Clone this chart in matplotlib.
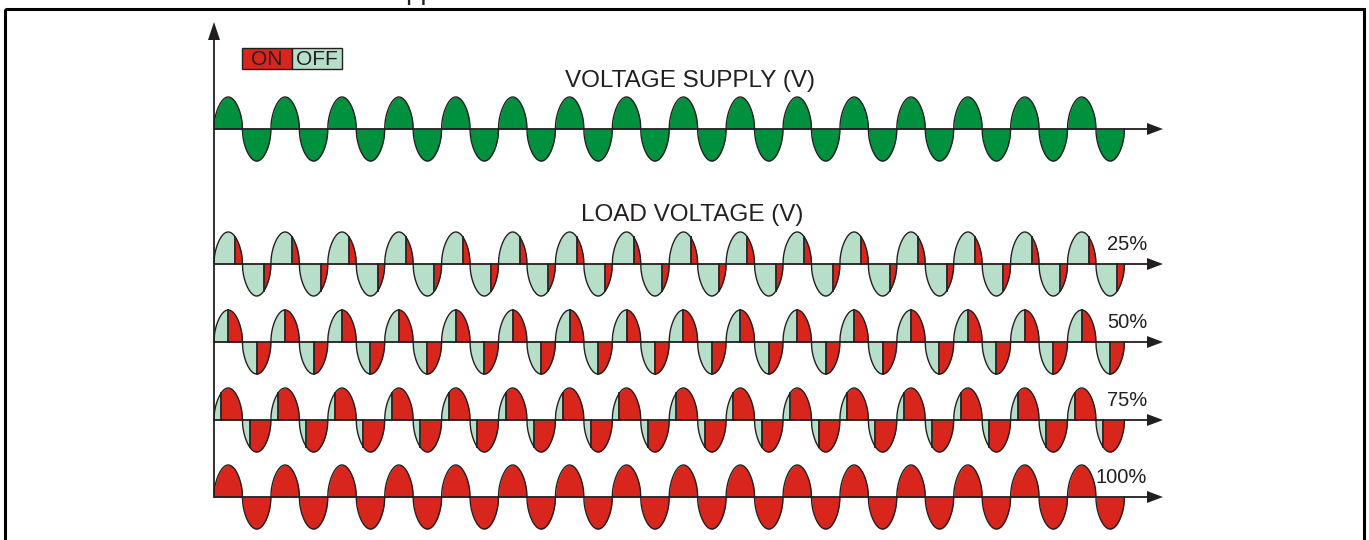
import numpy as np
import matplotlib.pyplot as plt
from matplotlib.patches import Rectangle, Polygon

# chart content
cycles = 16
duty_levels = [25, 50, 75, 100]
duty_labels = ['25%', '50%', '75%', '100%']
supply_title = 'VOLTAGE SUPPLY (V)'
load_title = 'LOAD VOLTAGE (V)'
legend_labels = ['ON', 'OFF']

# colours
GREEN = '#00913f'
RED = '#d9261c'
PALE = '#b6dec8'
INK = '#231f20'

# layout in pixels (figure is 1369 x 540)
x0 = 214
period = 56.9
amp = 32
supply_base = 129
row_bases = [264, 342, 420, 497]
x_end = 1163

plt.rcParams['font.family'] = ['Liberation Sans', 'DejaVu Sans']

fig = plt.figure(figsize=(13.69, 5.4), dpi=100)
ax = fig.add_axes((0, 0, 1, 1))
ax.set_xlim(0, 1369)
ax.set_ylim(540, 0)
ax.axis('off')


def half_shape(u):
    return np.sin(np.pi * u) ** 0.5


def draw_axis(y):
    ax.plot([x0, x_end - 14], [y, y], color=INK, lw=1.3, zorder=4, solid_capstyle='butt')
    ax.add_patch(Polygon([[x_end - 16, y - 6], [x_end, y], [x_end - 16, y + 6]],
                         closed=True, color=INK, zorder=4, lw=0))


def draw_row(base, fire, off_col, on_col):
    half = period / 2
    for k in range(2 * cycles):
        sign = 1 if k % 2 == 0 else -1
        xs0 = x0 + k * half
        # off part then on part
        for ua, ub, col in ((0, fire, off_col), (fire, 1, on_col)):
            if ub - ua <= 0:
                continue
            u = np.linspace(ua, ub, 60)
            xs = xs0 + u * half
            ys = base - sign * amp * half_shape(u)
            ax.fill_between(xs, base, ys, color=col, lw=0, zorder=1)
        u = np.linspace(0, 1, 120)
        ax.plot(xs0 + u * half, base - sign * amp * half_shape(u), color=INK, lw=1.0, zorder=2)
        if 0 < fire < 1:
            xf = xs0 + fire * half
            ax.plot([xf, xf], [base, base - sign * amp * half_shape(fire)],
                    color=INK, lw=1.3, zorder=3)
    draw_axis(base)


# supply wave
draw_row(supply_base, 1.0, GREEN, GREEN)

# load waves for each duty
for base, duty, label in zip(row_bases, duty_levels, duty_labels):
    draw_row(base, 1 - duty / 100, PALE, RED)
    ax.text(1147, base - 14, label, ha='right', va='baseline', fontsize=14.5, color=INK)

# vertical axis
ax.plot([x0, x0], [row_bases[-1], 38], color=INK, lw=1.3, zorder=4)
ax.add_patch(Polygon([[x0 - 6, 40], [x0, 22], [x0 + 6, 40]], closed=True, color=INK, lw=0, zorder=4))

# titles
ax.text(690, 87, supply_title, ha='center', va='baseline', fontsize=17.5, color=INK)
ax.text(692, 221, load_title, ha='center', va='baseline', fontsize=17.5, color=INK)

# legend
for i, (lab, col) in enumerate(zip(legend_labels, [RED, PALE])):
    ax.add_patch(Rectangle((242 + i * 50, 48), 50, 21, facecolor=col, edgecolor=INK, lw=1.0, zorder=3))
    ax.text(267 + i * 50, 65, lab, ha='center', va='baseline', fontsize=15, color=INK,
            family=['Liberation Sans Narrow', 'Liberation Sans'], zorder=4)

# frame
ax.add_patch(Rectangle((5, 9), 1359, 560, facecolor='none', edgecolor='black', lw=2.2,
                       clip_on=False, zorder=5))

# cut-off text above frame, as in the original page
ax.text(405, -1, 'pp', ha='left', va='baseline', fontsize=20, color=INK, clip_on=False)

fig.savefig('out.png', dpi=100)
